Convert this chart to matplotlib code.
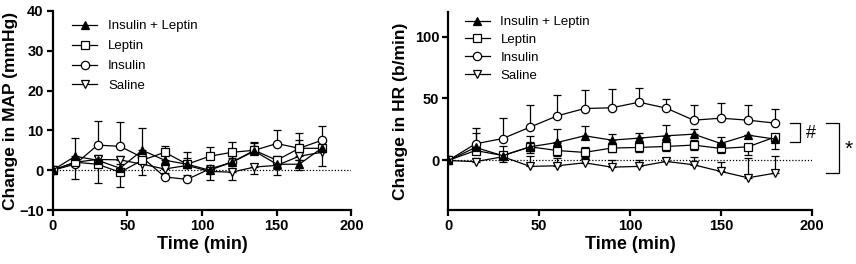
import matplotlib
matplotlib.use("Agg")
import matplotlib.pyplot as plt
import numpy as np

plt.rcParams['font.family'] = ['Liberation Sans', 'DejaVu Sans']

time = [0, 15, 30, 45, 60, 75, 90, 105, 120, 135, 150, 165, 180]
series_names = ["Insulin + Leptin", "Leptin", "Insulin", "Saline"]

# MAP (mmHg)
map_il = [0, 3.5, 2.5, 0.5, 5.0, 2.5, 1.5, 0.0, 2.0, 4.8, 1.5, 1.5, 5.5]
map_l = [0, 2.0, 1.5, -0.5, 2.5, 4.5, 1.5, 3.5, 4.5, 5.0, 2.5, 5.5, 5.5]
map_i = [0, 1.5, 6.3, 6.0, 3.2, -1.7, -2.3, 0.3, 2.0, 5.0, 6.7, 5.5, 7.5]
map_s = [0, 2.0, 2.7, 2.6, 1.5, 0.3, 1.2, -0.3, -0.5, 0.8, 1.2, 3.5, 4.5]
map_il_up = [0, 4.5, 1.0, 1.0, 5.7, 1.5, 3.0, 1.0, 1.5, 2.0, 1.5, 1.0, 2.0]
map_il_dn = [0, 0, 0, 0, 0, 0, 0, 2.5, 0, 0, 2.7, 1.5, 0]
map_l_up = [0, 1.0, 1.0, 0, 0, 1.6, 1.5, 2.3, 2.5, 2.0, 1.0, 2.0, 1.5]
map_l_dn = [0, 4.3, 4.6, 3.7, 3.8, 0, 0, 0, 0, 0, 0, 0, 0]
map_i_up = [0, 1.0, 6.1, 6.2, 1.0, 1.0, 1.0, 1.0, 1.0, 1.0, 3.5, 3.8, 3.7]
map_i_dn = [0, 0, 0, 0, 0, 0, 0, 0, 0, 0, 0, 0, 0]
map_s_up = [0, 1.0, 1.0, 1.0, 1.0, 1.0, 1.0, 0.5, 0, 0, 0, 0, 0]
map_s_dn = [0, 0, 0, 0, 0, 0, 0, 0, 1.9, 1.8, 1.0, 1.0, 3.5]

# HR (b/min)
hr_il = [0, 10.5, 3.8, 11.0, 14.5, 19.9, 16.4, 18.0, 19.9, 21.2, 13.7, 20.4, 17.2]
hr_l = [0, 8.0, 4.0, 11.0, 8.0, 6.5, 10.0, 10.5, 11.3, 12.4, 9.7, 11.0, 19.0]
hr_i = [0, 13.4, 17.7, 26.9, 36.0, 41.9, 42.5, 47.0, 42.2, 32.5, 34.1, 32.5, 30.1]
hr_s = [0, -1.0, 3.0, -4.8, -4.3, -1.9, -5.4, -4.8, -0.8, -3.5, -8.9, -14.0, -10.2]
hr_il_up = [0, 11.5, 8.0, 9.0, 10.5, 8.0, 5.0, 4.5, 8.5, 4.0, 5.0, 0, 0]
hr_il_dn = [0, 0, 0, 0, 0, 0, 0, 0, 0, 0, 0, 0, 8.0]
hr_l_up = [0, 3.0, 3.0, 4.0, 6.0, 4.7, 4.0, 4.0, 4.0, 4.0, 4.0, 0, 0]
hr_l_dn = [0, 3.0, 5.0, 5.0, 4.5, 4.7, 3.5, 4.0, 4.0, 4.0, 4.0, 7.0, 0]
hr_i_up = [0, 12.6, 16.3, 18.0, 17.0, 15.1, 15.3, 11.3, 7.3, 12.5, 11.9, 12.5, 11.6]
hr_i_dn = [0] * 13
hr_s_up = [0, 3.0, 3.0, 8.0, 6.0, 5.0, 6.0, 5.0, 3.0, 6.0, 8.0, 16.0, 13.7]
hr_s_dn = [0] * 13

markers = ['^', 's', 'o', 'v']
faces = ['black', 'white', 'white', 'white']

fig = plt.figure(figsize=(8.56, 2.64), dpi=100)
axL = fig.add_axes([0.0616, 0.2045, 0.349, 0.754])
axR = fig.add_axes([0.5237, 0.2045, 0.4245, 0.751])


def draw(ax, vals, ups, dns):
    handles = []
    order = [2, 3, 1, 0]
    for k in order:
        ax.errorbar(time, vals[k], yerr=[dns[k], ups[k]], fmt='none',
                    ecolor='black', elinewidth=0.9, capsize=3.2, capthick=0.9, zorder=2)
    for k in order:
        h, = ax.plot(time, vals[k], color='black', lw=0.9, marker=markers[k],
                     markersize=6, markerfacecolor=faces[k], markeredgecolor='black',
                     markeredgewidth=0.9, label=series_names[k], zorder=3 + (k == 0))
        handles.append((k, h))
    handles.sort()
    ax.axhline(0, color='black', lw=0.9, ls=(0, (1, 1.5)), zorder=1)
    for s in ['top', 'right']:
        ax.spines[s].set_visible(False)
    for s in ['left', 'bottom']:
        ax.spines[s].set_linewidth(1.6)
    ax.tick_params(width=1.6, length=4, labelsize=10.5, pad=2.5)
    ax.set_xlim(0, 200)
    ax.set_xticks([0, 50, 100, 150, 200])
    ax.set_xlabel('Time (min)', fontsize=13, fontweight='bold', labelpad=2)
    return [h for _, h in handles]


hL = draw(axL, [map_il, map_l, map_i, map_s], [map_il_up, map_l_up, map_i_up, map_s_up],
          [map_il_dn, map_l_dn, map_i_dn, map_s_dn])
axL.set_ylim(-10, 40)
axL.set_yticks([-10, 0, 10, 20, 30, 40])
for lab in axL.get_xticklabels() + axL.get_yticklabels():
    lab.set_fontweight('bold')
axL.set_ylabel('Change in MAP (mmHg)', fontsize=12.5, fontweight='bold', labelpad=1)
axL.legend(hL, series_names, loc='upper left', bbox_to_anchor=(0.035, 1.0), frameon=False,
           fontsize=9.5, handlelength=1.9, labelspacing=0.58, handletextpad=0.8,
           borderaxespad=0.3)

hR = draw(axR, [hr_il, hr_l, hr_i, hr_s], [hr_il_up, hr_l_up, hr_i_up, hr_s_up],
          [hr_il_dn, hr_l_dn, hr_i_dn, hr_s_dn])
axR.set_ylim(-40, 120)
axR.set_yticks([0, 50, 100])
for lab in axR.get_xticklabels() + axR.get_yticklabels():
    lab.set_fontweight('bold')
axR.set_ylabel('Change in HR (b/min)', fontsize=12.5, fontweight='bold', labelpad=5)
axR.legend(hR, series_names, loc='upper left', bbox_to_anchor=(0.02, 1.025), frameon=False,
           fontsize=9.5, handlelength=1.9, labelspacing=0.42, handletextpad=0.8,
           borderaxespad=0.3)

# significance brackets
axR.plot([188, 193.5, 193.5, 188], [30.2, 30.2, 14.5, 14.5], color='black', lw=0.9, clip_on=False)
axR.text(197, 22, '#', fontsize=13, ha='left', va='center', clip_on=False)
axR.plot([208, 215, 215, 208], [30.2, 30.2, -10.5, -10.5], color='black', lw=0.9, clip_on=False)
axR.text(218, 9, '*', fontsize=15, ha='left', va='center', clip_on=False)

fig.savefig('out.png', dpi=100)
